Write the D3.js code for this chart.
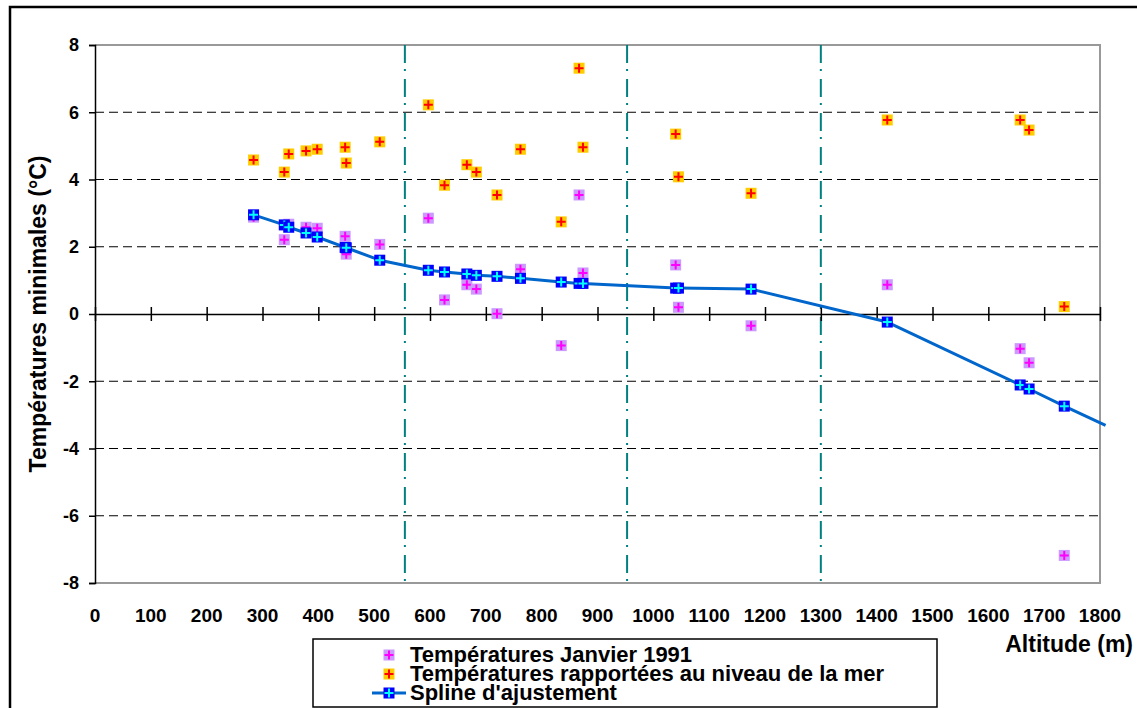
<!DOCTYPE html>
<html>
<head>
<meta charset="utf-8">
<script src="https://cdn.jsdelivr.net/npm/d3@7"></script>
<style>
  body { margin: 0; background: #fff; }
  text { font-family: Arial, 'Liberation Sans', sans-serif; font-weight: bold; fill: #000; }
</style>
</head>
<body>
<script>
// stations (altitude, m)
var altitudes = [284, 339, 347, 378, 398, 448, 450, 510, 597, 626, 666, 683, 720, 762, 835, 867, 874, 1040, 1045, 1175, 1419, 1657, 1673, 1736];
// Températures Janvier 1991
var janvier = [2.88, 2.21, 2.67, 2.58, 2.55, 2.31, 1.78, 2.07, 2.85, 0.42, 0.87, 0.74, 0.01, 1.33, -0.94, 3.54, 1.22, 1.46, 0.20, -0.35, 0.87, -1.03, -1.45, -7.18];
// Températures rapportées au niveau de la mer
var niveauMer = [4.58, 4.22, 4.76, 4.85, 4.90, 4.96, 4.49, 5.12, 6.22, 3.83, 4.44, 4.22, 3.54, 4.90, 2.74, 7.31, 4.96, 5.35, 4.08, 3.59, 5.77, 5.77, 5.47, 0.22];
// Spline d'ajustement
var spline = [2.95, 2.65, 2.58, 2.41, 2.29, 1.98, 1.97, 1.60, 1.30, 1.25, 1.19, 1.15, 1.12, 1.06, 0.95, 0.91, 0.91, 0.77, 0.77, 0.74, -0.24, -2.11, -2.23, -2.74];
var splineEnd = [1810, -3.31];

var zoneLimits = [555, 953, 1300];
var xTicks = d3.range(0, 1801, 100);
var yTicks = [-8, -6, -4, -2, 0, 2, 4, 6, 8];

var legendLabels = ['Températures Janvier 1991', 'Températures rapportées au niveau de la mer', "Spline d'ajustement"];

var w = 1137, h = 708;
var pL = 95, pR = 1100, pT = 45, pB = 583;

var x = d3.scaleLinear().domain([0, 1800]).range([pL, pR]);
var y = d3.scaleLinear().domain([-8, 8]).range([pB, pT]);

var svg = d3.select('body').append('svg')
  .attr('width', w)
  .attr('height', h);

// outer frame
svg.append('rect')
  .attr('x', 10).attr('y', 7)
  .attr('width', 1150).attr('height', 720)
  .attr('fill', 'none').attr('stroke', '#000').attr('stroke-width', 2.5);

// horizontal grid
svg.append('g').selectAll('line')
  .data(yTicks.filter(function(d) { return d != 0 && Math.abs(d) != 8; }))
  .enter().append('line')
  .attr('x1', pL).attr('x2', pR)
  .attr('y1', function(d) { return y(d); })
  .attr('y2', function(d) { return y(d); })
  .attr('stroke', '#000').attr('stroke-width', 1)
  .attr('stroke-dasharray', '9,5');

// plot border
svg.append('path')
  .attr('d', 'M' + pL + ',' + pT + 'H' + pR + 'V' + pB + 'H' + pL)
  .attr('fill', 'none').attr('stroke', '#999').attr('stroke-width', 2);

// altitude zones
svg.append('g').selectAll('line')
  .data(zoneLimits)
  .enter().append('line')
  .attr('x1', function(d) { return x(d); })
  .attr('x2', function(d) { return x(d); })
  .attr('y1', pT).attr('y2', pB)
  .attr('stroke', '#008080').attr('stroke-width', 2)
  .attr('stroke-dasharray', '18,6,2,8');

// y axis
var yAxis = svg.append('g')
  .attr('transform', 'translate(' + pL + ',0)')
  .call(d3.axisLeft(y).tickValues(yTicks).tickSize(6).tickPadding(10).tickFormat(function(d) { return String(d); }));
yAxis.select('.domain').attr('stroke', '#000').attr('stroke-width', 1.5);
yAxis.selectAll('.tick line').attr('stroke-width', 1.5);
yAxis.selectAll('text').style('font-size', '18px');

// x axis on the zero line, ticks crossing
var xAxis = svg.append('g')
  .attr('transform', 'translate(0,' + y(0) + ')')
  .call(d3.axisBottom(x).tickValues(xTicks).tickSizeInner(7).tickSizeOuter(0).tickFormat(''));
xAxis.select('.domain').attr('stroke', '#000').attr('stroke-width', 1.5);
xAxis.selectAll('.tick line').attr('y1', -7).attr('stroke-width', 1.5);

svg.append('g').selectAll('text')
  .data(xTicks)
  .enter().append('text')
  .attr('x', function(d) { return x(d); })
  .attr('y', 622)
  .attr('text-anchor', 'middle')
  .style('font-size', '19px')
  .text(function(d) { return d; });

// axis titles
svg.append('text')
  .attr('x', 1133).attr('y', 652)
  .attr('text-anchor', 'end')
  .style('font-size', '23px')
  .text('Altitude (m)');

svg.append('text')
  .attr('transform', 'translate(46,' + ((pT + pB) / 2) + ') rotate(-90)')
  .attr('text-anchor', 'middle')
  .style('font-size', '23px')
  .text('Températures minimales (°C)');

function marker(g, fill, cross) {
  g.append('rect')
    .attr('x', -5.5).attr('y', -5.5)
    .attr('width', 11).attr('height', 11)
    .attr('fill', fill);
  g.append('path')
    .attr('d', 'M-4.5,0H4.5M0,-4.5V4.5')
    .attr('stroke', cross).attr('stroke-width', 2);
}

var stations = altitudes.map(function(a, i) {
  return {alt: a, jan: janvier[i], mer: niveauMer[i], spl: spline[i]};
});

svg.append('g').selectAll('g')
  .data(stations)
  .enter().append('g')
  .attr('transform', function(d) { return 'translate(' + x(d.alt) + ',' + y(d.jan) + ')'; })
  .each(function() { marker(d3.select(this), '#cc99ff', '#ff00ff'); });

svg.append('g').selectAll('g')
  .data(stations)
  .enter().append('g')
  .attr('transform', function(d) { return 'translate(' + x(d.alt) + ',' + y(d.mer) + ')'; })
  .each(function() { marker(d3.select(this), '#ffcc00', '#ff0000'); });

var linePts = stations.map(function(d) { return [d.alt, d.spl]; }).concat([splineEnd]);
var line = d3.line()
  .x(function(d) { return x(d[0]); })
  .y(function(d) { return y(d[1]); });

svg.append('path')
  .attr('d', line(linePts))
  .attr('fill', 'none')
  .attr('stroke', '#0066cc')
  .attr('stroke-width', 3)
  .attr('stroke-linejoin', 'round');

svg.append('g').selectAll('g')
  .data(stations)
  .enter().append('g')
  .attr('transform', function(d) { return 'translate(' + x(d.alt) + ',' + y(d.spl) + ')'; })
  .each(function() { marker(d3.select(this), '#0000ff', '#00ffff'); });

// legend
var lg = svg.append('g');
lg.append('rect')
  .attr('x', 313).attr('y', 639)
  .attr('width', 624).attr('height', 68)
  .attr('fill', '#fff').attr('stroke', '#000').attr('stroke-width', 1.5);

var rows = [
  {fill: '#cc99ff', cross: '#ff00ff', line: false},
  {fill: '#ffcc00', cross: '#ff0000', line: false},
  {fill: '#0000ff', cross: '#00ffff', line: true}
];
rows.forEach(function(r, i) {
  var cy = 655 + i * 19;
  if (r.line) {
    lg.append('line')
      .attr('x1', 372).attr('x2', 406)
      .attr('y1', cy).attr('y2', cy)
      .attr('stroke', '#0066cc').attr('stroke-width', 3);
  }
  var m = lg.append('g').attr('transform', 'translate(389,' + cy + ')');
  marker(m, r.fill, r.cross);
  lg.append('text')
    .attr('x', 410).attr('y', cy + 7)
    .style('font-size', '22px')
    .text(legendLabels[i]);
});
</script>
</body>
</html>
